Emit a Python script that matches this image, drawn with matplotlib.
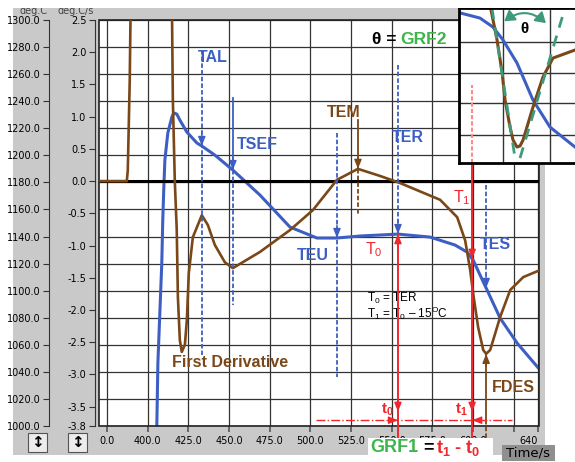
import numpy as np
import matplotlib.pyplot as plt
from matplotlib.patches import Rectangle, FancyArrowPatch

plt.rcParams['font.family'] = ['Liberation Sans', 'DejaVu Sans']
plt.rcParams['mathtext.fontset'] = 'custom'
plt.rcParams['mathtext.rm'] = 'Liberation Sans'
plt.rcParams['mathtext.it'] = 'Liberation Sans:italic'
plt.rcParams['mathtext.bf'] = 'Liberation Sans:bold'

# cooling curve, deg.C against time/s
temp_t = [405.4, 406.2, 407.4, 408.6, 409.2, 409.8, 410.5, 412.3, 414.8, 416.0, 417.8,
          419.7, 424.0, 430.2, 433.2, 441.2, 452.3, 468.9, 487.4, 504.0, 516.3, 530.5,
          553.8, 573.5, 588.9, 596.3, 600.0, 604.3, 608.6, 616.6, 627.1, 641.2]
temp_c = [990.0, 1046.5, 1083.5, 1120.4, 1152.2, 1174.4, 1196.5, 1216.5, 1228.3, 1231.3, 1230.5,
          1226.1, 1217.2, 1209.1, 1206.9, 1200.2, 1189.1, 1170.7, 1147.0, 1138.9, 1138.9, 1140.4,
          1141.8, 1139.6, 1133.7, 1128.5, 1122.6, 1111.5, 1100.4, 1079.7, 1061.2, 1041.3]

# first derivative, deg.C/s
deriv_t = [370.0, 387.1, 387.7, 388.9, 389.5, 390.2, 414.2, 414.8, 415.4, 416.6, 417.8,
           418.5, 419.7, 420.9, 422.8, 424.0, 425.2, 427.7, 433.2, 436.9, 441.2, 447.4,
           452.3, 468.9, 487.4, 501.5, 516.3, 529.2, 542.8, 555.1, 565.5, 579.7, 590.2,
           595.1, 598.2, 600.0, 603.1, 606.2, 608.0, 610.5, 616.6, 622.8, 630.8, 641.2]
deriv_v = [0.0, 0.0, 0.17, 1.57, 2.81, 3.74, 3.74, 2.81, 1.26, 0.0, -0.76,
           -1.80, -2.47, -2.65, -2.54, -2.16, -1.43, -0.87, -0.53, -0.68, -0.99, -1.26,
           -1.35, -1.10, -0.76, -0.45, 0.02, 0.19, 0.08, -0.03, -0.14, -0.29, -0.56,
           -0.92, -1.38, -1.74, -2.27, -2.62, -2.68, -2.62, -2.11, -1.69, -1.49, -1.38]

# characteristic times
t_tal, t_tsef, t_teu, t_tem, t_ter, t_t1, t_tes = 433.2, 452.3, 516.3, 529.2, 553.8, 599.4, 608.0

xtick_pos = [375, 400, 425, 450, 475, 500, 525, 550, 575, 600, 625, 640]
xtick_lab = ['0.0', '400.0', '425.0', '450.0', '475.0', '500.0', '525.0',
             '550.0', '575.0', '600.0', '', '640']
temp_ticks = list(range(1000, 1301, 20))
deriv_ticks = [2.5, 2.0, 1.5, 1.0, 0.5, 0.0, -0.5, -1.0, -1.5, -2.0, -2.5, -3.0, -3.5, -3.8]

# zoomed inset (relative units)
in_blue_u = [0.0, 0.181, 0.293, 0.379, 0.5, 0.638, 0.784, 1.0, 1.08]
in_blue_v = [0.97, 0.935, 0.877, 0.794, 0.645, 0.406, 0.232, 0.103, 0.06]
in_brown_u = [0.259, 0.328, 0.371, 0.397, 0.44, 0.466, 0.5, 0.526, 0.552, 0.638, 0.724, 0.81, 1.0, 1.08]
in_brown_v = [1.05, 0.794, 0.587, 0.406, 0.232, 0.148, 0.103, 0.11, 0.148, 0.361, 0.555, 0.677, 0.729, 0.74]

BLUE = '#3d5fc4'
BROWN = '#7a4719'
RED = '#f0282d'
GREEN = '#3db54a'
TEAL = '#3f9a7c'
PANEL = '#c9c9c9'
GRID = '#333333'

W, H = 575, 462
fig = plt.figure(figsize=(5.75, 4.62), dpi=100)
fig.add_artist(Rectangle((13 / W, 1 - 455 / H), 532 / W, 447 / H, transform=fig.transFigure,
                         facecolor=PANEL, edgecolor='none', zorder=-10))

ax_t = fig.add_axes([99 / W, 1 - 426 / H, 440 / W, 406 / H])
ax_t.set_facecolor('white')
ax_t.set_xlim(370, 640.5)
ax_t.set_ylim(1000, 1300)
ax_t.set_xticks(xtick_pos)
ax_t.set_xticklabels(xtick_lab)
ax_t.get_xticklabels()[-1].set_horizontalalignment('right')
ax_t.set_yticks(temp_ticks)
ax_t.set_yticklabels(['%.1f' % v for v in temp_ticks])
ax_t.grid(True, color=GRID, lw=0.9)
ax_t.set_axisbelow(True)
for s in ['top', 'right', 'bottom']:
    ax_t.spines[s].set_visible(False)
ax_t.spines['left'].set_position(('axes', -50 / 440))
ax_t.spines['left'].set_color('#333333')
ax_t.tick_params(axis='y', length=4, width=0.8, labelsize=7, pad=2, colors='#333333',
                 labelcolor='black')
ax_t.tick_params(axis='x', length=4, width=1.2, labelsize=7, pad=3, colors='#555555',
                 labelcolor='black')
for lab in ax_t.get_xticklabels() + ax_t.get_yticklabels():
    lab.set_family('DejaVu Sans')
ax_t.plot(temp_t, temp_c, color=BLUE, lw=2.2, zorder=2)

ax_d = ax_t.twinx()
ax_d.set_ylim(-3.8, 2.5)
ax_d.yaxis.set_ticks_position('left')
for s in ['top', 'right', 'bottom']:
    ax_d.spines[s].set_visible(False)
ax_d.spines['left'].set_visible(True)
ax_d.spines['left'].set_position(('axes', -4 / 440))
ax_d.spines['left'].set_color('#333333')
ax_d.set_yticks(deriv_ticks)
ax_d.set_yticklabels(['%.1f' % v for v in deriv_ticks])
ax_d.tick_params(axis='y', length=4, width=0.8, labelsize=7, pad=2, colors='#333333',
                 labelcolor='black')
for lab in ax_d.get_yticklabels():
    lab.set_family('DejaVu Sans')
ax_d.add_patch(Rectangle((0, 0), 1, 1, transform=ax_d.transAxes, fill=False,
                         edgecolor='#222222', lw=1.2, clip_on=False, zorder=1))

ax_d.axhline(0, color='black', lw=2.2, zorder=1)
ax_d.plot(deriv_t, deriv_v, color=BROWN, lw=1.9, zorder=3)


def on_blue(t):
    T = np.interp(t, temp_t, temp_c)
    return -3.8 + (T - 1000) * 6.3 / 300


def on_brown(t):
    return np.interp(t, deriv_t, deriv_v)


def head(x, y, dx, dy, color):
    ax_d.annotate('', xy=(x, y), xytext=(x - dx, y - dy),
                  arrowprops=dict(arrowstyle='-|>,head_width=0.22,head_length=0.55',
                                  color=color, lw=1, shrinkA=0, shrinkB=0,
                                  mutation_scale=10), annotation_clip=False)


dash = (0, (2.5, 1.2))
lkw = dict(lw=1.3, clip_on=False, zorder=4)

# blue markers
y = on_blue(t_tal)
ax_d.plot([t_tal, t_tal], [2.03, -2.70], color=BLUE, ls=dash, **lkw)
head(t_tal, y, 0, -0.2, BLUE)
y = on_blue(t_tsef)
ax_d.plot([t_tsef, t_tsef], [1.29, y], color=BLUE, **lkw)
ax_d.plot([t_tsef, t_tsef], [y, -1.92], color=BLUE, ls=dash, **lkw)
head(t_tsef, y, 0, -0.2, BLUE)
y = on_blue(t_teu)
ax_d.plot([t_teu, t_teu], [0.74, -3.04], color=BLUE, ls=dash, **lkw)
head(t_teu, y, 0, -0.2, BLUE)
y = on_blue(t_ter)
ax_d.plot([t_ter, t_ter], [1.80, y], color=BLUE, ls=dash, **lkw)
head(t_ter, y, 0, -0.2, BLUE)
y = on_blue(t_tes)
ax_d.plot([t_tes, t_tes], [-0.06, y], color=BLUE, ls=dash, **lkw)
head(t_tes, y, 0, -0.2, BLUE)

# brown markers
y = on_brown(t_tem)
ax_d.plot([t_tem, t_tem], [0.95, y], color=BROWN, **lkw)
ax_d.plot([t_tem, t_tem], [y, -0.53], color=BROWN, ls=dash, **lkw)
head(t_tem, y, 0, -0.2, BROWN)
y = on_brown(t_tes)
ax_d.plot([t_tes, t_tes], [-3.71, y], color=BROWN, **lkw)
ax_d.plot([t_tes, t_tes], [-3.71, -4.12], color=BROWN, ls=dash, **lkw)
head(t_tes, y, 0, 0.2, BROWN)

# red T0 / T1 lines
y = on_blue(t_ter)
ax_d.plot([t_ter, t_ter], [-4.1, y], color=RED, lw=1.4, clip_on=False, zorder=4)
head(t_ter, y, 0, 0.2, RED)
y = on_blue(t_t1)
ax_d.plot([t_t1, t_t1], [0.28, -4.1], color=RED, lw=1.4, clip_on=False, zorder=4)
head(t_t1, y, 0, -0.2, RED)
ax_d.plot([503.4, 624.0], [-3.71, -3.71], color=RED, lw=1, ls='-.', zorder=4)
head(t_ter, -3.71, 3.5, 0, RED)
head(t_t1, -3.71, -3.5, 0, RED)
head(t_ter, -3.58, 0, -0.12, RED)
head(t_t1, -3.58, 0, -0.12, RED)

bold = dict(fontsize=11.5, fontweight='bold', va='center', zorder=6)
ax_d.text(430.8, 1.92, 'TAL', color=BLUE, **bold)
ax_d.text(454.8, 0.57, 'TSEF', color=BLUE, **bold)
ax_d.text(491.7, -1.16, 'TEU', color=BLUE, **bold)
ax_d.text(510.2, 1.07, 'TEM', color=BROWN, **bold)
ax_d.text(550.2, 0.68, 'TER', color=BLUE, **bold)
ax_d.text(604.3, -0.99, 'TES', color=BLUE, **bold)
ax_d.text(611.7, -3.21, 'FDES', color=BROWN, **bold)
ax_d.text(414.8, -2.82, 'First Derivative', color=BROWN, **bold)
ax_d.text(533.5, -1.07, r'T$_0$', color=RED, fontsize=11.5, va='center')
ax_d.text(587.7, -0.25, r'T$_1$', color=RED, fontsize=11.5, va='center')
ax_d.text(534.8, -1.82, r'T$_0$ = TER', color='black', fontsize=8.5, va='center')
ax_d.text(534.8, -2.05, r'T$_1$ = T$_0$ – 15$^{\rm O}$C', color='black', fontsize=8.5, va='center')
ax_d.text(537.8, 2.19, 'θ =', color='black', fontsize=12.5, fontweight='bold', va='center')
ax_d.text(555.1, 2.19, 'GRF2', color=GREEN, fontsize=12.5, fontweight='bold', va='center')
ax_d.text(547.1, -3.55, r't$_\mathbf{0}$', color=RED, fontsize=11, fontweight='bold',
          ha='center', va='center')
ax_d.text(592.6, -3.55, r't$_\mathbf{1}$', color=RED, fontsize=11, fontweight='bold',
          ha='center', va='center')

# zoomed inset of the end of solidification
ax_in = fig.add_axes([459 / W, 1 - 163 / H, 125 / W, 155 / H], zorder=5)
ax_in.set_facecolor('white')
ax_in.set_xlim(0, 125 / 116)
ax_in.set_ylim(0, 1)
ax_in.set_xticks([])
ax_in.set_yticks([])
for s in ax_in.spines.values():
    s.set_linewidth(2)
    s.set_color('black')
for u in [0.379, 0.784]:
    ax_in.axvline(u, color=GRID, lw=1)
for v in [0.18, 0.387, 0.58, 0.78]:
    ax_in.axhline(v, color=GRID, lw=1)
ax_in.plot([0.112, 0.112], [0, 0.503], color='#ff8888', lw=1.5, ls=(0, (2, 1)))
ax_in.plot(in_blue_u, in_blue_v, color=BLUE, lw=2.2)
ax_in.plot(in_brown_u, in_brown_v, color=BROWN, lw=2.2)
ax_in.plot([0.284, 0.483], [1.0, 0.032], color=TEAL, lw=2, ls=(0, (4, 3)))
ax_in.plot([0.526, 0.914], [0.032, 1.0], color=TEAL, lw=2, ls=(0, (4, 3)))
ax_in.add_patch(FancyArrowPatch((0.371, 0.903), (0.767, 0.890), connectionstyle='arc3,rad=-0.45',
                                arrowstyle='<|-|>,head_width=2.5,head_length=4',
                                color=TEAL, lw=1.5, mutation_scale=1.5))
ax_in.text(0.56, 0.865, 'θ', fontsize=11, fontweight='bold', ha='center', va='center')

# frame pieces around the chart
fig.text(20 / W, 1 - 11 / H, 'deg.C', fontsize=7, color='#444444', va='center', family='DejaVu Sans')
fig.text(57 / W, 1 - 11 / H, 'deg.C/s', fontsize=7, color='#444444', va='center', family='DejaVu Sans')
fig.add_artist(Rectangle((0, 1 - 8 / H), 1, 8 / H, transform=fig.transFigure,
                         facecolor='white', edgecolor='none', zorder=20))

for bx in [28, 68]:
    fig.add_artist(Rectangle((bx / W, 1 - 452 / H), 19 / W, 19 / H, transform=fig.transFigure,
                             facecolor='#ececec', edgecolor='#555555', lw=0.8, zorder=5))
    fig.text((bx + 9.5) / W, 1 - 442.5 / H, '↕', fontsize=11, fontweight='bold',
             ha='center', va='center', family='DejaVu Sans', zorder=6)

fig.add_artist(Rectangle((368 / W, 1 - 458 / H), 125 / W, 20 / H, transform=fig.transFigure,
                         facecolor='white', edgecolor='none', zorder=5))
fig.text(370 / W, 1 - 448 / H, 'GRF1', color=GREEN, fontsize=13, fontweight='bold', va='center', zorder=6)
fig.text(423 / W, 1 - 448 / H, '=', color='black', fontsize=13, fontweight='bold', va='center', zorder=6)
fig.text(436 / W, 1 - 448 / H, r't$_\mathbf{1}$ - t$_\mathbf{0}$', color=RED, fontsize=13,
         fontweight='bold', va='center', zorder=6)

fig.add_artist(Rectangle((502 / W, 1 - 461 / H), 53 / W, 16 / H, transform=fig.transFigure,
                         facecolor='#8f8f8f', edgecolor='none', zorder=5))
fig.text(528 / W, 1 - 453 / H, 'Time/s', fontsize=9.5, ha='center', va='center',
         family='DejaVu Sans', zorder=6)

fig.savefig('out.png', dpi=100)
